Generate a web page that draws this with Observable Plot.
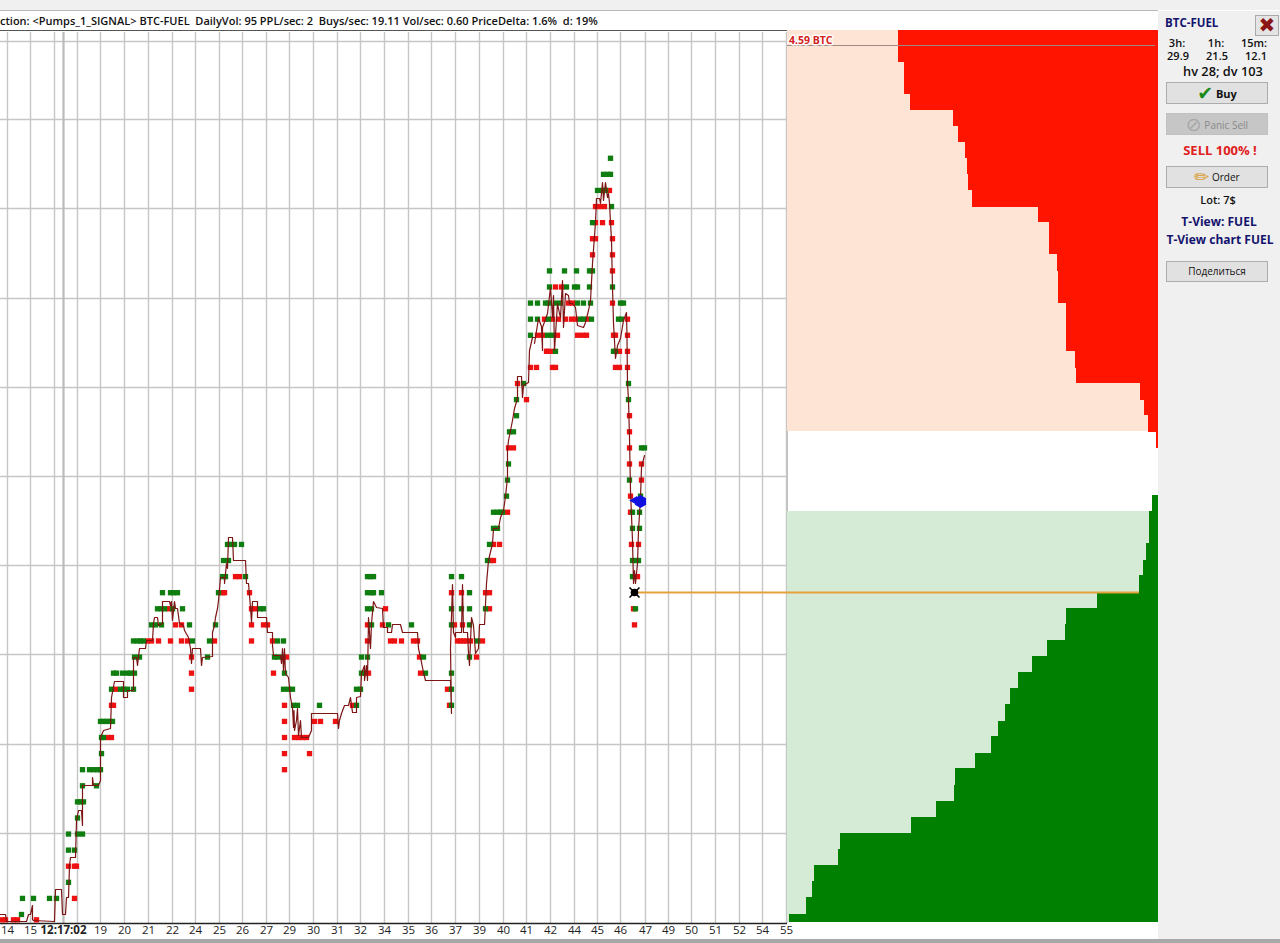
<!DOCTYPE html>
<html><head><meta charset="utf-8">
<script src="https://cdn.jsdelivr.net/npm/d3@7"></script>
<script src="https://cdn.jsdelivr.net/npm/@observablehq/plot@0.6"></script>
<style>
html,body{margin:0;padding:0;background:#fff}
#page{position:relative;width:1280px;height:943px;overflow:hidden;background:#fff;font-family:"Open Sans","Noto Sans",sans-serif}
#page>div,#page>svg{position:absolute}
.plotbox{position:absolute}
.t{white-space:pre;line-height:14px;color:#111;font-weight:600;font-size:11px}
.c{text-align:center;transform:translateX(-50%)}
.btn{left:1166px;width:100px;border:1px solid #adadad;background:#e1e1e1;text-align:center;box-sizing:content-box;color:#111;font-size:10px;white-space:pre}
</style></head><body><div id="page">
<div style="left:0;top:0;width:1280px;height:10px;background:#f0f0f0"></div>
<div style="left:0;top:10px;width:1158px;height:1px;background:#b8b8b8"></div>
<div style="left:1158px;top:11px;width:122px;height:928px;background:#f0f0f0"></div>
<div style="left:0;top:939px;width:1280px;height:4px;background:#a8a8a8"></div>
<div id="main" class="plotbox" style="left:0;top:0"></div>
<div id="depth" class="plotbox" style="left:787px;top:0"></div>
<div id="head" class="t" style="left:0;top:14px;font-size:11.03px;font-weight:600;color:#111"></div>

<div class="t" style="left:1165px;top:16px;color:#14146e;font-size:11.5px;font-weight:700">BTC-FUEL</div>
<div style="left:1255px;top:15px;width:22px;height:19px;border:1px solid #aaa;background:#e4e4e4;color:#8b1414;font:700 20px/19px 'DejaVu Sans';text-align:center">✖</div>
<div class="t c" style="left:1177px;top:36px">3h:</div>
<div class="t c" style="left:1216px;top:36px">1h:</div>
<div class="t c" style="left:1254px;top:36px">15m:</div>
<div class="t c" style="left:1178px;top:49px">29.9</div>
<div class="t c" style="left:1217px;top:49px">21.5</div>
<div class="t c" style="left:1256px;top:49px">12.1</div>
<div class="t c" style="left:1223px;top:64px;font-size:12.8px">hv 28; dv 103</div>
<div class="btn" style="top:82px;height:20px;line-height:20px;font-weight:700;font-size:11px"><span style="color:#1a8a1a;font:700 19px/20px 'DejaVu Sans';vertical-align:-2px">✔</span> Buy</div>
<div class="btn" style="top:113px;height:20px;line-height:20px;background:#c6c6c6;border-color:#c0c0c0;color:#8a8a8a"><span style="color:#a8a8a8;font:400 19px/20px 'DejaVu Sans';vertical-align:-2px">⊘</span> Panic Sell</div>
<div class="t c" style="left:1220px;top:143px;color:#e02020;font-size:13px;font-weight:700">SELL 100% !</div>
<div class="btn" style="top:166px;height:20px;line-height:20px"><span style="color:#d99a30;font:400 18px/20px 'DejaVu Sans';vertical-align:-2px">✏</span> Order</div>
<div class="t c" style="left:1218px;top:193px">Lot: 7$</div>
<div class="t c" style="left:1219px;top:215px;color:#14146e;font-size:12px;font-weight:700">T-View: FUEL</div>
<div class="t c" style="left:1220px;top:233px;color:#14146e;font-size:12px;font-weight:700">T-View chart FUEL</div>
<div class="btn" style="top:261px;height:19px;line-height:19px">Поделиться</div>
</div>
<script>
// ---- header
const headerText = "ction: <Pumps_1_SIGNAL> BTC-FUEL  DailyVol: 95 PPL/sec: 2  Buys/sec: 19.11 Vol/sec: 0.60 PriceDelta: 1.6%  d: 19%";
// ---- time axis (t = chart time units, p = price units)
const gridT = [7,30,54,77,100,124,148,172,195,219,242,266,289,313,337,360,384,408,431,455,479,503,526,550,574,597,620,645,668,691,715,739,762,786];
const tickT = [7,30,100,124,148,172,195,219,242,266,289,313,337,360,384,408,431,455,479,503,526,550,574,597,620,645,668,691,715,739,762,786];
const tickLabels = ["14","15","19","20","21","22","24","25","26","27","29","30","31","32","34","35","36","37","39","40","41","42","44","45","46","47","49","50","51","52","54","55"];
const markT = 63, markLabel = "12:17:02";
const gridP = [89,178,268,357,446,535,624,714,803,881];
// ---- order dots per price level: [level, times]
const levelStep = 16.09, levelBase = 8;
const greenRows = [[0,[21]],[1,[22,33,49,56]],[2,[68]],[4,[68,74]],[5,[68,77,82]],[6,[77]],[7,[77,80,83]],[8,[82,96]],
[9,[82,89,93,97,100]],[10,[101]],[11,[101,103]],[12,[100,103,106,109,112]],[13,[293,297,319,356,451]],
[14,[111,120,123,127,133,283,288,292,356,360,451]],[15,[113,116,122,127,130,134,284,361,425,451]],
[16,[134,139,207,274,277,282,361,367,423,469]],[17,[133,137,140,143,192,209,277,283,477]],
[18,[151,155,161,189,215,371,388,411,451,469]],[19,[157,161,164,172,182,260,263,367,371,451,461,469,485,635]],
[20,[162,170,173,177,218,367,371,373,381,469]],[21,[222,225,245,367,370,373,451,461,632]],[22,[223,228,487,632,635,638]],
[23,[227,230,234,241,489]],[24,[493,497,632,639]],[25,[493,497,500,502,632,639]],[26,[506,640]],[27,[507,629]],[28,[508]],
[29,[641,644]],[30,[509,513]],[31,[516]],[32,[516,628]],[33,[523,628]],[35,[555,613,615]],[36,[530,547,552]],
[37,[530,537,548,580,583,591,618,621]],[38,[530,537,545,548,555,560,577,583,590,620,623]],[39,[549,566,574,577,589,612]],
[40,[549,564,576,589,592]],[43,[592]],[44,[611]],[45,[597,602,605]],[46,[603,607,610]],[47,[610]]];
const redRows = [[-0.33,[1,5,13,17,36]],[1,[74]],[3,[68,74,76]],[9,[284]],[10,[284,309]],[11,[107,111,284,294,298,302,306]],
[12,[284,314,320,335]],[13,[111,113,284,352,449]],[14,[115,191,447]],[15,[191,273,364,368,420]],[16,[191,286,419,476]],
[17,[147,151,158,170,181,187,214,251,272,367,390,394,401,413,417,457,460,463,466,470,482]],
[18,[175,181,251,263,267,367,382,454,462,634]],[19,[168,251,255,385,489,633]],[20,[222,224,249,451,461,485,489]],
[21,[235,239,637]],[22,[490,493]],[23,[493,499,631,638]],[25,[507,630]],[26,[630]],[27,[641]],[28,[629,641]],[29,[508,513,629]],
[30,[629]],[31,[629]],[32,[526]],[33,[517]],[34,[530,536,552,555,615,619,627]],[35,[546,547,552,619,627]],
[36,[537,542,557,577,582,586,613,615,627]],[37,[544,552,558,565,571,575,587,627]],[38,[568,572,612]],[39,[555,561]],
[40,[612]],[41,[592,612]],[42,[592,595,612]],[43,[595,602,611]],[44,[595,599,604]],[45,[609]]];
// ---- price line: [t, p]
const priceLine = [[0,8],[5,8],[6,1],[26,1],[28,8],[30,8],[32,17],[32,3],[33,2],[54,1],[55,33],[61,33],[62,8],[65,8],[66,25],[68,25],[69,57],[70,65],[75,65],[76,102],[78,112],[81,112],[82,97],[82,137],[92,137],[92,145],[93,137],[98,137],[100,142],[100,185],[103,192],[110,194],[111,225],[114,241],[123,241],[123,225],[127,225],[127,232],[133,232],[133,265],[136,265],[137,257],[139,274],[145,274],[146,282],[152,282],[153,299],[154,305],[157,305],[158,297],[162,299],[162,321],[169,321],[170,317],[171,321],[172,302],[173,312],[174,321],[175,314],[177,314],[179,299],[183,297],[184,292],[188,285],[190,274],[191,259],[192,274],[200,274],[201,257],[202,265],[212,266],[212,290],[214,297],[215,305],[217,314],[218,322],[220,345],[224,345],[224,339],[226,359],[227,354],[228,385],[232,385],[233,362],[245,362],[246,339],[248,339],[250,315],[251,300],[252,321],[257,321],[257,305],[266,305],[267,290],[272,290],[272,277],[273,267],[280,267],[281,259],[282,274],[283,252],[284,274],[285,249],[288,245],[290,225],[292,215],[293,195],[293.5,212],[294,192],[296,202],[297,214],[298,187],[300,202],[301,185],[308,185],[311,192],[311,209],[337,209],[338,194],[339,202],[341,209],[344,217],[348,217],[350,225],[352,210],[356,210],[356,225],[360,226],[361,249],[364,257],[364,242],[366,257],[367,242],[368,305],[370,274],[371,299],[373,321],[376,315],[382,314],[383,295],[387,295],[387,290],[391,290],[392,298],[400,298],[402,290],[417,290],[418,274],[420,265],[423,250],[425,242],[450,242],[451,209],[450,274],[452,338],[453,290],[455,285],[455,290],[461,290],[462,338],[463,290],[467,290],[468,269],[469,257],[471,305],[473,297],[475,269],[478,274],[479,298],[484,298],[486,339],[488,362],[492,379],[493,394],[498,394],[500,405],[503,412],[505,426],[507,445],[507,472],[508,482],[510,492],[512,502],[514,514],[517,524],[517,546],[521,546],[522,525],[523,537],[528,540],[529,572],[532,585],[535,585],[534,579],[538,604],[541,596],[542,572],[542,595],[547,609],[550,635],[552,605],[553,627],[554,572],[557,619],[559,609],[560,605],[562,642],[563,595],[565,629],[568,627],[569,619],[572,619],[575,615],[577,597],[583,595],[585,600],[588,612],[590,622],[592,659],[595,700],[596,724],[599,724],[600,719],[602,740],[603,722],[605,740],[607,725],[608,729],[609,719],[611,682],[612,635],[613,599],[615,564],[617,577],[620,584],[623,602],[626,610],[626.5,585],[627,539],[628,522],[629,485],[630,432],[632,382],[633,339],[634,352],[635,339],[637,359],[638,392],[640,425],[641,455],[644,467]];
const levelP = 330, entryT = 634, bluePoint = [640,421], blueTip = [634,422];
// ---- order book depth: price edges and volumes
const askEdges = [892,860,828,812,796,780,764,748,732,715,700,668,651,619,571,554,539,522,507,490,474];
const askVols  = [260,254,248,205,200,193,191,190,186,120,109,101,100,92,83,82,18,14,10,2];
const bidEdges = [427,411,379,362,347,330,314,298,282,266,250,234,218,201,186,169,154,137,121,105,89,73,57,41,25,8,0];
const bidVols  = [6,9,12,15,19,61,92,93,111,126,140,148,153,160,167,183,203,204,222,247,318,320,344,346,352,369];
const depthMax = 371, bidLevelVol = 19, askBandBottom = 491, bidBandTop = 411, balanceLabel = "4.59 BTC";

document.getElementById("head").textContent = headerText;
const tLab = new Map(tickT.map((t,i)=>[t,tickLabels[i]]));
const rows = r => r.flatMap(([lv,ts]) => ts.map(t => ({t, p: levelBase + lv*levelStep})));
const yScale = {domain:[0,892], axis:null};
const grid = "#c6c6c6";
const main = Plot.plot({
  width:800, height:943, marginLeft:0, marginRight:13, marginTop:30, marginBottom:21,
  style:{background:"transparent",fontFamily:"'Open Sans','Noto Sans',sans-serif",fontSize:"12px",color:"#222"},
  x:{domain:[0,787]}, y:yScale,
  marks:[
    Plot.ruleY(gridP,{stroke:grid,strokeWidth:1.4}),
    Plot.ruleX(gridT,{y1:-1,y2:890,stroke:grid,strokeWidth:1.4}),
    Plot.ruleX([markT],{y1:-1,y2:890,stroke:"#bbb",strokeWidth:2.2}),
    Plot.ruleX([787],{y1:-1,y2:892,stroke:"#c0c0c0",strokeWidth:1}),
    Plot.ruleY([892],{stroke:"#555",strokeWidth:1}),
    Plot.ruleY([-1],{stroke:"#222",strokeWidth:1.4}),
    Plot.dot(rows(redRows),{x:"t",y:"p",symbol:"square",r:3,fill:"#ee1111",stroke:"none"}),
    Plot.dot(rows(greenRows),{x:"t",y:"p",symbol:"square",r:3,fill:"#0f7d0f",stroke:"none"}),
    Plot.line(priceLine,{x:d=>d[0],y:d=>d[1],stroke:"#7d1515",strokeWidth:1.2,curve:"linear"}),
    Plot.ruleY([levelP],{x1:entryT,x2:787,stroke:"#e6a23c",strokeWidth:2}),
    Plot.dot([[entryT,levelP]],{x:d=>d[0],y:d=>d[1],symbol:"circle",r:3.8,fill:"#000",stroke:"none"}),
    Plot.dot([[entryT,levelP]],{x:d=>d[0],y:d=>d[1],symbol:"times",r:4.6,stroke:"#000",strokeWidth:1.6}),
    Plot.dot([blueTip],{x:d=>d[0],y:d=>d[1],symbol:"triangle",r:3.4,rotate:-90,fill:"#1010e0",stroke:"none"}),
    Plot.dot([bluePoint],{x:d=>d[0],y:d=>d[1],symbol:"hexagon",r:5.6,fill:"#1010e0",stroke:"none"}),
    Plot.axisX(tickT,{anchor:"bottom",label:null,tickSize:0,tickPadding:3,tickFormat:t=>tLab.get(t),fontSize:11.5}),
    Plot.axisX([markT],{anchor:"bottom",label:null,tickSize:0,tickPadding:3,tickFormat:()=>markLabel,fontWeight:700,fontSize:11.5})
  ]
});
document.getElementById("main").appendChild(main);

const band = (edges,vols) => vols.map((v,i)=>({v,p1:edges[i],p2:edges[i+1]}));
const depth = Plot.plot({
  width:371, height:923, marginLeft:0, marginRight:0, marginTop:30, marginBottom:1,
  style:{background:"transparent",fontFamily:"'Open Sans','Noto Sans',sans-serif"},
  x:{domain:[depthMax,0],axis:null}, y:yScale,
  marks:[
    Plot.rect([{p1:892,p2:askBandBottom}],{x1:depthMax,x2:0,y1:"p1",y2:"p2",fill:"#fde4d4"}),
    Plot.rect([{p1:bidBandTop,p2:0}],{x1:depthMax,x2:0,y1:"p1",y2:"p2",fill:"#d5ebd5"}),
    Plot.rect(band(askEdges,askVols),{x1:"v",x2:0,y1:"p1",y2:"p2",fill:"#ff1400"}),
    Plot.rect(band(bidEdges,bidVols),{x1:"v",x2:0,y1:"p1",y2:"p2",fill:"#008000"}),
    Plot.ruleY([877],{x1:depthMax,x2:3,stroke:"#a08a86",strokeWidth:1}),
    Plot.ruleY([levelP],{x1:depthMax,x2:bidLevelVol,stroke:"#e6a23c",strokeWidth:2}),
    Plot.text([balanceLabel],{x:depthMax-1.5,y:882,text:d=>d,textAnchor:"start",fill:"#d42020",fontWeight:700,fontSize:10.5,stroke:"#fff",strokeWidth:3})
  ]
});
document.getElementById("depth").appendChild(depth);
</script></body></html>
